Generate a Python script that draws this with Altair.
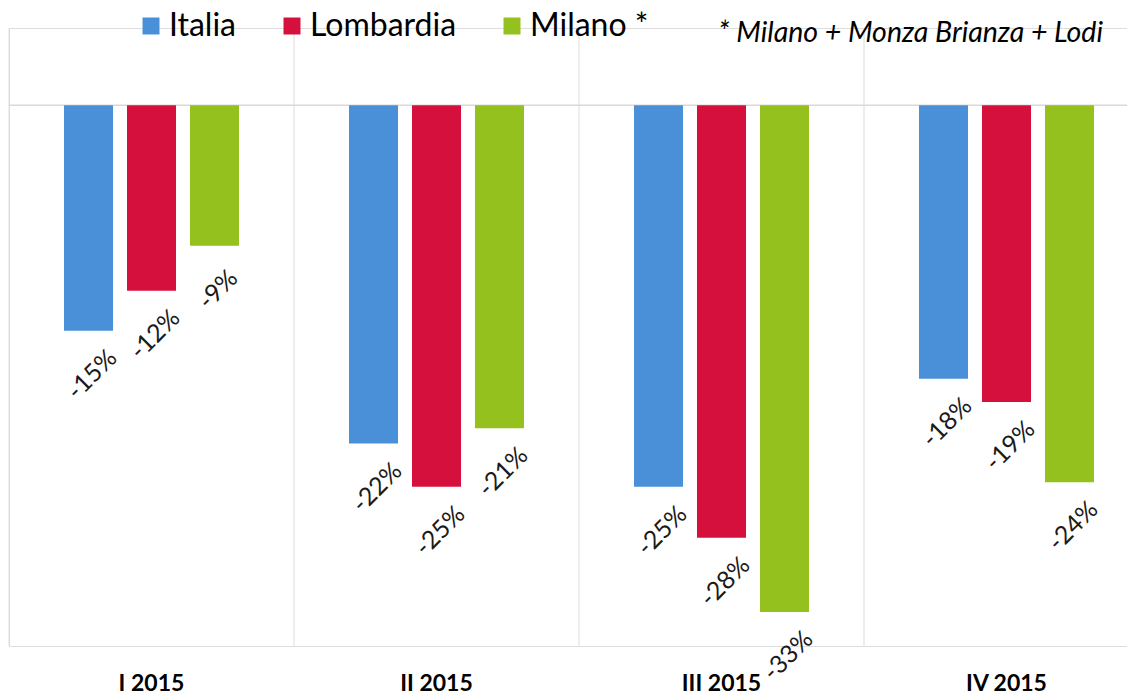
import altair as alt
import pandas as pd

periods = ["I 2015", "II 2015", "III 2015", "IV 2015"]
series = ["Italia", "Lombardia", "Milano *"]
italia = [-14.6, -21.9, -24.7, -17.7]
lombardia = [-12.0, -24.7, -28.0, -19.2]
milano = [-9.1, -20.9, -32.8, -24.4]
colors = ["#4a90d9", "#d6103c", "#95c11f"]
note = "* Milano + Monza Brianza + Lodi"

rows = []
for s, vals in zip(series, [italia, lombardia, milano]):
    for p, v in zip(periods, vals):
        rows.append({"period": p, "series": s, "value": v, "label": f"{v:.0f}%"})
df = pd.DataFrame(rows)

x_scale = alt.Scale(domain=periods, range=[0, 1140], paddingInner=0, paddingOuter=0)
x_axis = alt.Axis(title=None, domain=False, ticks=False, labelAngle=0, labelFont="Lato",
                  labelFontWeight="bold", labelFontSize=23, labelColor="#000000",
                  labelPadding=26, grid=False)
x = alt.X("period:N", sort=periods, scale=x_scale, axis=x_axis)
xoff = alt.XOffset("series:N", sort=series,
                   scale=alt.Scale(domain=series, paddingInner=0.222, paddingOuter=0.873))
y_scale = alt.Scale(domain=[-35, 5], nice=False, zero=False)
y = alt.Y("value:Q", scale=y_scale, axis=None)

base = alt.Chart(df)

grid = alt.Chart(pd.DataFrame({"period": periods})).mark_rule(color="#dcdcdc", strokeWidth=1).encode(
    x=alt.X("period:N", sort=periods, scale=x_scale, axis=x_axis, bandPosition=0)
)

zero_line = alt.Chart(pd.DataFrame({"z": [0]})).mark_rule(color="#d9d9d9", strokeWidth=1.5).encode(
    y=alt.Y("z:Q", scale=y_scale, axis=None)
)

bars = base.mark_bar().encode(
    x=x,
    xOffset=xoff,
    y=y,
    y2=alt.datum(0),
    color=alt.Color(
        "series:N",
        sort=series,
        scale=alt.Scale(domain=series, range=colors),
        legend=alt.Legend(
            title=None, orient="none", legendX=126, legendY=-18, direction="horizontal",
            columns=3, gridAlign="none", symbolType="square", symbolSize=289,
            symbolStrokeWidth=0, symbolOpacity=1, labelFontSize=32, labelFont="Lato",
            labelColor="#000000", labelOffset=2, columnPadding=39, labelLimit=300,
        ),
    ),
)

labels = base.mark_text(
    align="center", baseline="middle", angle=315, dx=-28.5, dy=33.5,
    font="Lato", fontSize=25, color="#1a1a1a",
).encode(x=x, xOffset=xoff, y=y, text="label:N")

annot = alt.Chart(pd.DataFrame({"t": [note]})).mark_text(
    align="right", baseline="alphabetic", font="Lato", fontStyle="italic",
    fontSize=28.5, color="#000000",
).encode(x=alt.value(1094), y=alt.value(14), text="t:N")

chart = alt.layer(grid, zero_line, bars, labels, annot).properties(
    width=1118,
    height=618,
    autosize=alt.AutoSizeParams(type="none"),
    padding={"left": 1, "top": 20, "right": 0, "bottom": 50},
).configure_view(stroke=None).configure(font="Lato")

chart.save("out.html", embed_options={"renderer": "svg", "actions": False})
